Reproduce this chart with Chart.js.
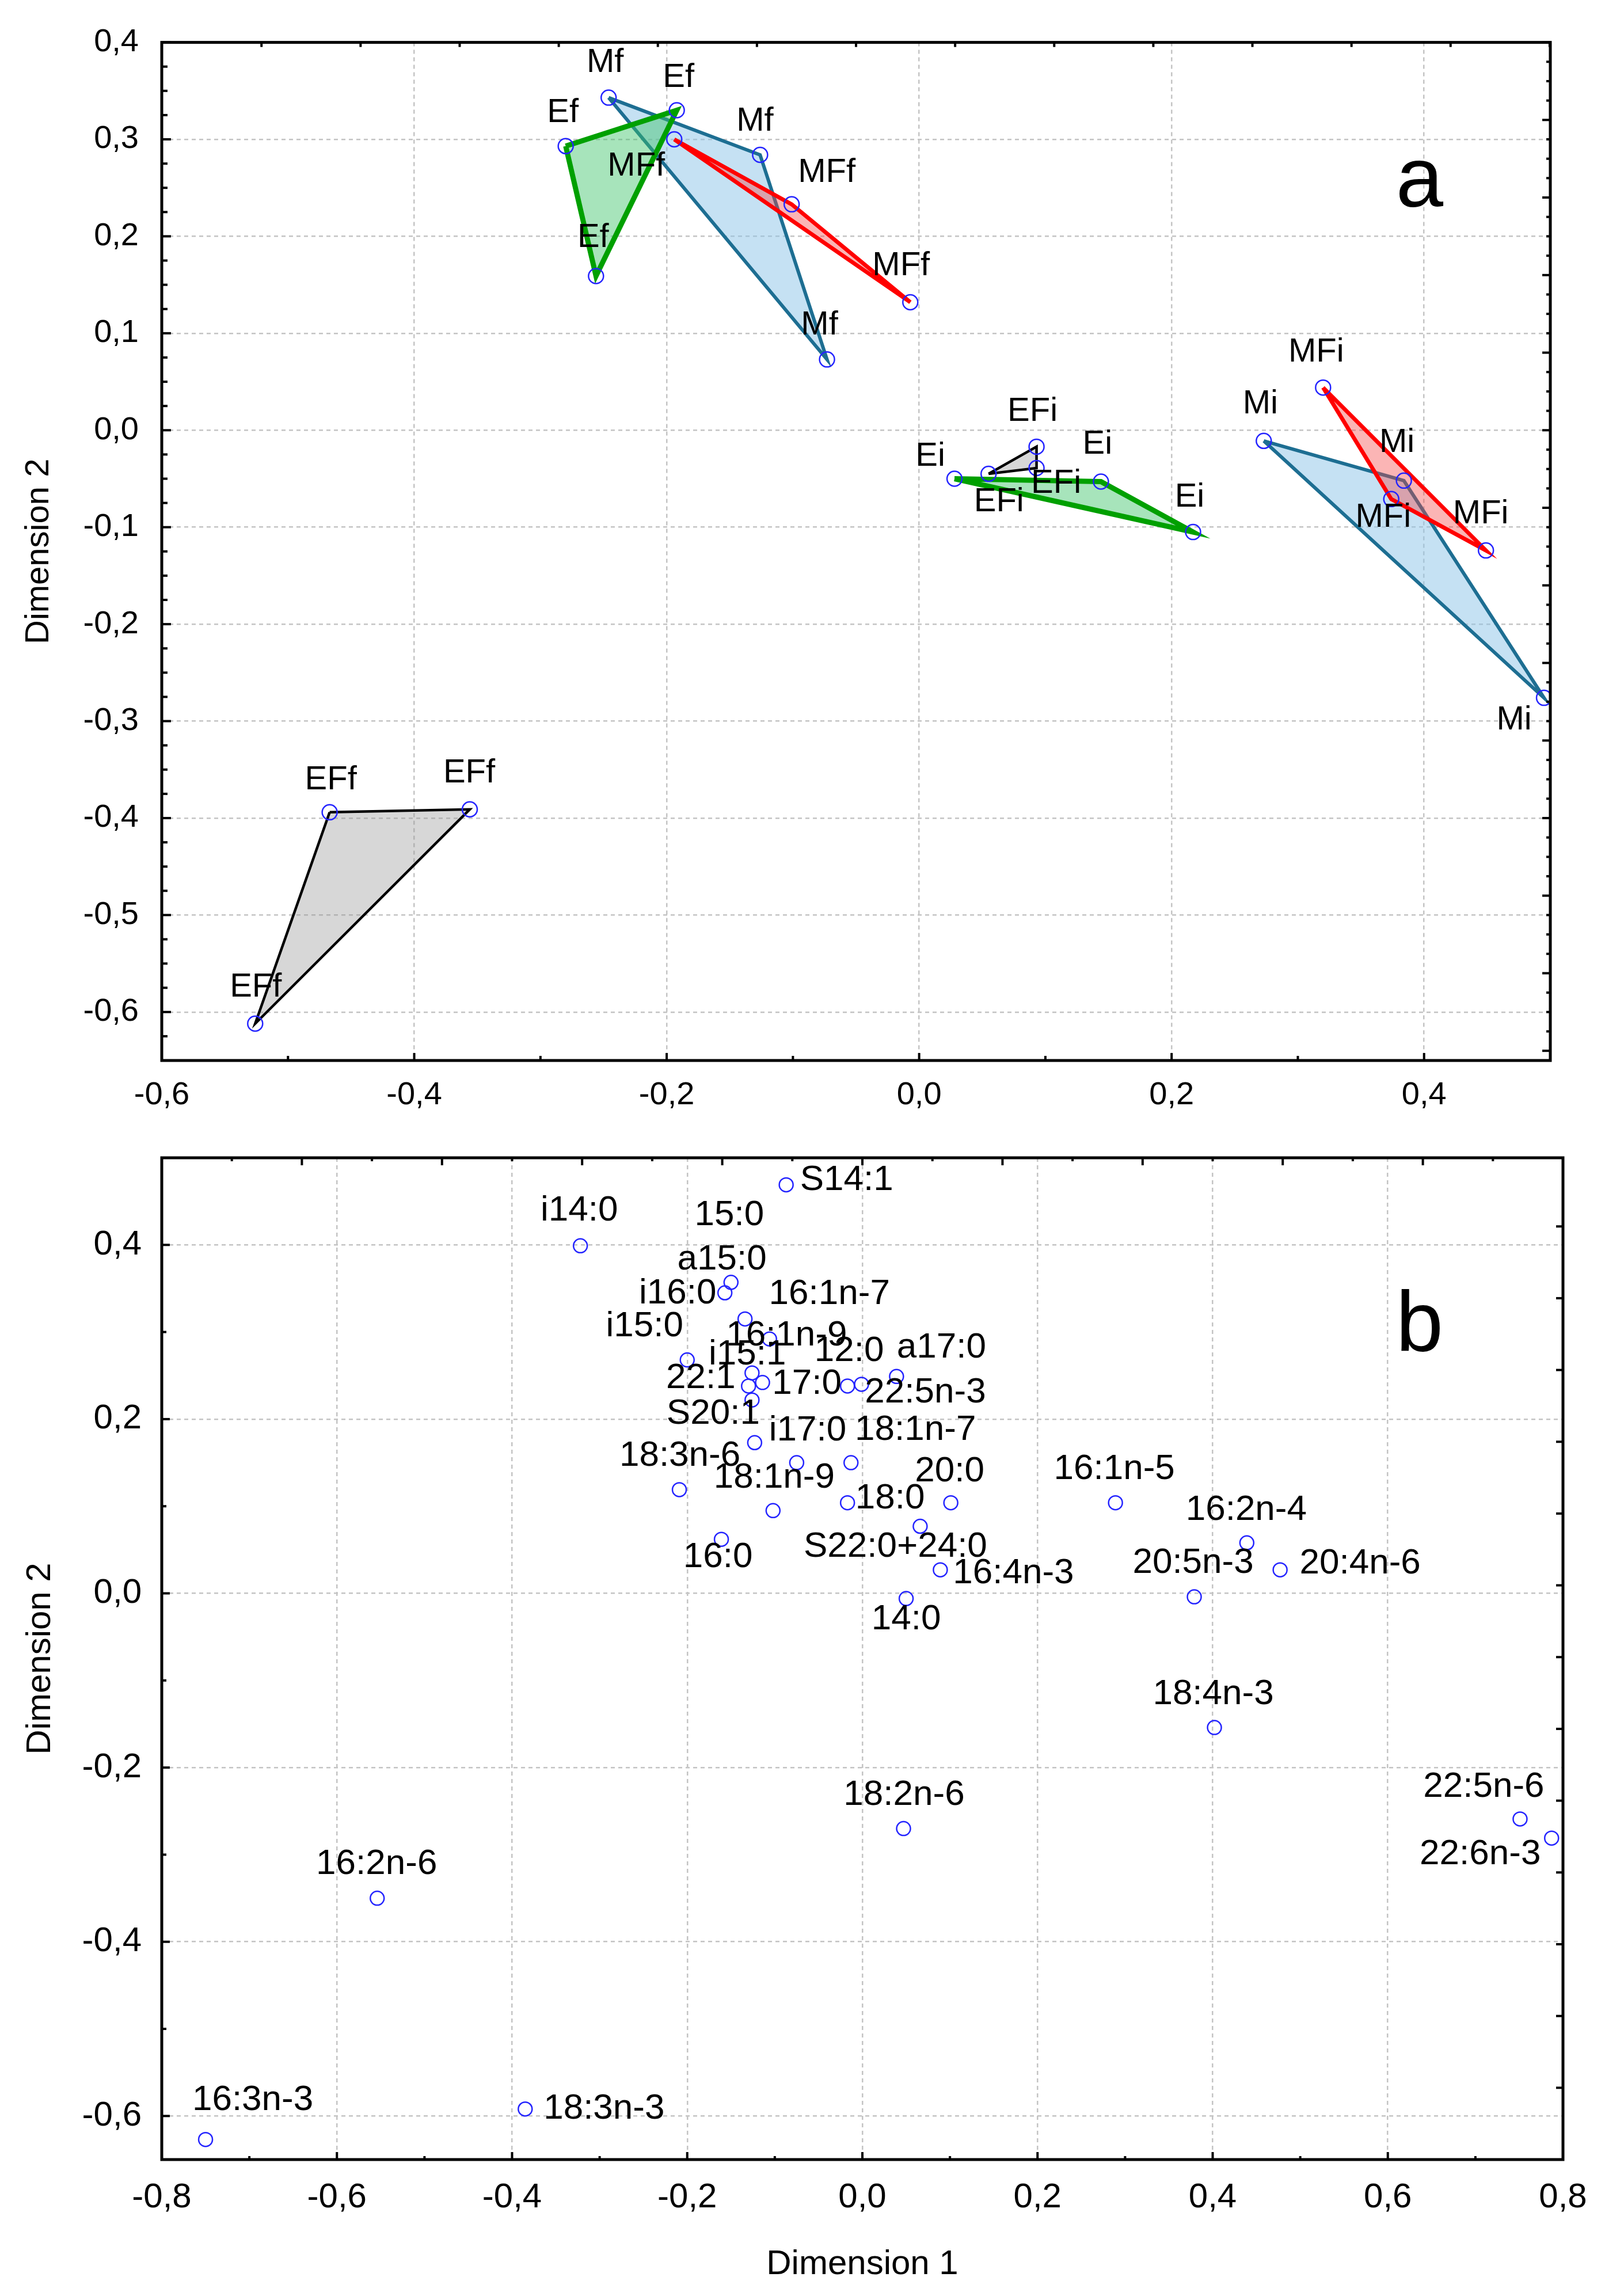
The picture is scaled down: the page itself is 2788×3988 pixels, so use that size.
<!DOCTYPE html>
<html>
<head>
<meta charset="utf-8">
<script src="https://cdn.jsdelivr.net/npm/chart.js@4.4.1/dist/chart.umd.min.js"></script>
<style>
  html, body { margin: 0; padding: 0; background: #fff; }
  .wrap { position: absolute; left: 0; width: 2788px; }
  #wrapA { top: 0; height: 1940px; }
  #wrapB { top: 1940px; height: 2048px; }
</style>
</head>
<body>
<div class="wrap" id="wrapA"><canvas id="chartA" width="2788" height="1940" style="width:2788px;height:1940px"></canvas></div>
<div class="wrap" id="wrapB"><canvas id="chartB" width="2788" height="2048" style="width:2788px;height:2048px"></canvas></div>
<script>
// ---- panel a: sample groups (three replicates each) ----
const groupNames = ["Mf", "Ef", "MFf", "EFf", "Mi", "Ei", "MFi", "EFi"];
const groupDim1 = [
    [-0.246, -0.126, -0.073],
    [-0.280, -0.192, -0.256],
    [-0.194, -0.101, -0.007],
    [-0.467, -0.356, -0.526],
    [0.273, 0.384, 0.495],
    [0.028, 0.144, 0.217],
    [0.320, 0.374, 0.449],
    [0.055, 0.093, 0.093]
];
const groupDim2 = [
    [0.343, 0.284, 0.073],
    [0.293, 0.330, 0.159],
    [0.300, 0.233, 0.132],
    [-0.394, -0.391, -0.612],
    [-0.011, -0.052, -0.276],
    [-0.050, -0.053, -0.105],
    [0.044, -0.071, -0.124],
    [-0.045, -0.017, -0.039]
];

// ---- panel b: fatty acids ----
const acidNames = [
    "S14:1", "i14:0", "15:0", "a15:0", "i16:0", "16:1n-7", "i15:0", "16:1n-9", "17:0",
    "i15:1", "22:1", "S20:1", "i17:0", "18:3n-6", "18:1n-9", "18:1n-7", "18:0", "12:0",
    "22:5n-3", "a17:0", "20:0", "16:0", "S22:0+24:0", "16:4n-3", "14:0", "16:1n-5",
    "16:2n-4", "20:4n-6", "20:5n-3", "18:4n-3", "18:2n-6", "22:5n-6", "22:6n-3",
    "16:2n-6", "16:3n-3", "18:3n-3"
];
const acidDim1 = [
    -0.087, -0.322, -0.150, -0.157, -0.134, -0.106, -0.200, -0.126, -0.114,
    -0.130, -0.126, -0.123, -0.075, -0.209, -0.102, -0.013, -0.017, -0.017,
    -0.001, 0.039, 0.101, -0.161, 0.066, 0.089, 0.050, 0.289,
    0.439, 0.477, 0.379, 0.402, 0.047, 0.751, 0.787,
    -0.554, -0.750, -0.385
];
const acidDim2 = [
    0.469, 0.399, 0.357, 0.345, 0.315, 0.292, 0.268, 0.253, 0.242,
    0.238, 0.222, 0.173, 0.150, 0.119, 0.095, 0.150, 0.104, 0.238,
    0.240, 0.249, 0.104, 0.062, 0.077, 0.027, -0.006, 0.104,
    0.058, 0.027, -0.004, -0.154, -0.270, -0.259, -0.281,
    -0.350, -0.627, -0.592
];

// axis tick labels
const ticksAx = [-0.6, -0.4, -0.2, 0, 0.2, 0.4];
const ticksAy = [-0.6, -0.5, -0.4, -0.3, -0.2, -0.1, 0, 0.1, 0.2, 0.3, 0.4];
const ticksBx = [-0.8, -0.6, -0.4, -0.2, 0, 0.2, 0.4, 0.6, 0.8];
const ticksBy = [-0.6, -0.4, -0.2, 0, 0.2, 0.4];

// polygon styles, per group
const groupStroke = ["#1d6e92", "#00a000", "#ff0000", "#000000", "#1d6e92", "#00a000", "#ff0000", "#000000"];
const groupFill = [
    "rgba(140,195,232,0.5)", "rgba(60,195,105,0.45)", "rgba(245,70,70,0.4)", "rgba(150,150,150,0.38)",
    "rgba(140,195,232,0.5)", "rgba(60,195,105,0.45)", "rgba(245,70,70,0.4)", "rgba(150,150,150,0.38)"
];
const groupLineWidth = [6, 9, 7, 4.5, 6, 9, 7, 4.5];
const groupOrder = [4, 3, 2, 1, 4, 3, 2, 1];

// label placement (pixels from the marker)
const groupLabelShift = [
    [[-6, -61], [-9, -58], [-13, -59]],
    [[-5, -58], [3, -56], [-5, -66]],
    [[-66, 47], [61, -55], [-16, -63]],
    [[2, -56], [-1, -63], [1, -63]],
    [[-6, -64], [-12, -66], [-52, 39]],
    [[-42, -38], [-6, -65], [-6, -60]],
    [[-12, -61], [-14, 32], [-9, -63]],
    [[18, 49], [-7, -61], [34, 27]]
];
const acidLabelShift = [
    [105, -8], [-2, -61], [-3, -116], [-5, -58], [-117, -44], [104, -78], [-74, -58], [60, -65], [77, 3],
    [-2, -55], [-89, -38], [-72, -50], [19, -56], [1, -59], [2, -57], [112, -57], [74, -7], [3, -61],
    [111, 15], [78, -50], [-2, -54], [-6, 31], [-43, 36], [127, 6], [0, 36], [-2, -58],
    [-1, -57], [139, -11], [-2, -59], [-2, -58], [1, -58], [-63, -55], [-124, 28],
    [-1, -59], [82, -68], [137, 0]
];

const FONT = "'Liberation Sans', Arial, Helvetica, sans-serif";
Chart.defaults.font.family = FONT;
Chart.defaults.color = "#000";

const fmt = v => Number(v).toFixed(1).replace(".", ",");

// frame round the plot area, with inward tick marks on all four sides
const frameTicks = {
    id: "frameTicks",
    afterDatasetsDraw(chart, args, opts) {
        const { ctx, chartArea: a, scales } = chart;
        ctx.save();
        ctx.strokeStyle = "#000";
        ctx.lineWidth = 4;
        opts.sides.forEach(s => {
            const horiz = s.side === "top" || s.side === "bottom";
            const scale = horiz ? scales.x : scales.y;
            for (let i = 0; i < 400; i++) {
                const v = s.start + i * s.step;
                if (v > scale.max + 1e-9) break;
                if (v < scale.min - 1e-9) continue;
                const len = i % s.majorEvery === 0 ? s.majorLen : s.minorLen;
                const p = scale.getPixelForValue(v);
                ctx.beginPath();
                if (s.side === "bottom") { ctx.moveTo(p, a.bottom); ctx.lineTo(p, a.bottom - len); }
                if (s.side === "top") { ctx.moveTo(p, a.top); ctx.lineTo(p, a.top + len); }
                if (s.side === "left") { ctx.moveTo(a.left, p); ctx.lineTo(a.left + len, p); }
                if (s.side === "right") { ctx.moveTo(a.right, p); ctx.lineTo(a.right - len, p); }
                ctx.stroke();
            }
        });
        ctx.lineWidth = 5;
        ctx.strokeRect(a.left, a.top, a.right - a.left, a.bottom - a.top);
        ctx.restore();
    }
};

// text next to every marker of one dataset
const pointLabels = {
    id: "pointLabels",
    afterDatasetsDraw(chart, args, opts) {
        const meta = chart.getDatasetMeta(opts.datasetIndex);
        const ctx = chart.ctx;
        ctx.save();
        ctx.font = opts.font;
        ctx.fillStyle = "#000";
        ctx.textAlign = "center";
        ctx.textBaseline = "middle";
        meta.data.forEach((el, i) => {
            const s = opts.shifts[i];
            ctx.fillText(opts.names[i], el.x + s[0], el.y + s[1]);
        });
        ctx.restore();
    }
};

// big panel letter
const panelLetter = {
    id: "panelLetter",
    afterDraw(chart, args, opts) {
        const { ctx, chartArea: a } = chart;
        ctx.save();
        ctx.font = "148px " + FONT;
        ctx.fillStyle = "#000";
        ctx.textAlign = "center";
        ctx.textBaseline = "alphabetic";
        ctx.fillText(opts.text, a.right - opts.fromRight, a.top + opts.baseline);
        ctx.restore();
    }
};

function scaleOptions(min, max, tickValues, fontSize, pad, fitSize, isX, title) {
    const o = {
        type: "linear",
        position: isX ? "bottom" : "left",
        min: min,
        max: max,
        afterBuildTicks: scale => { scale.ticks = tickValues.map(v => ({ value: v })); },
        afterFit: scale => { if (isX) scale.height = fitSize; else scale.width = fitSize; },
        ticks: {
            font: { size: fontSize },
            color: "#000",
            padding: pad,
            autoSkip: false,
            maxRotation: 0,
            callback: v => fmt(v)
        },
        grid: { color: "#c4c4c4", lineWidth: 2.5, drawTicks: false },
        border: { display: false, dash: [7, 6] }
    };
    if (title) o.title = title;
    return o;
}

// ---------- chart a ----------
const datasetsA = [];
const namesA = [];
const shiftsA = [];
const ptsA = [];
groupNames.forEach((name, g) => {
    const poly = groupDim1[g].map((v, i) => ({ x: v, y: groupDim2[g][i] }));
    poly.forEach((p, i) => { ptsA.push(p); namesA.push(name); shiftsA.push(groupLabelShift[g][i]); });
    datasetsA.push({
        data: poly.concat([poly[0]]),
        showLine: true,
        fill: "shape",
        tension: 0,
        borderColor: groupStroke[g],
        backgroundColor: groupFill[g],
        borderWidth: groupLineWidth[g],
        borderJoinStyle: "miter",
        pointRadius: 0,
        order: groupOrder[g]
    });
});
datasetsA.push({
    data: ptsA,
    showLine: false,
    pointRadius: 13,
    pointBorderWidth: 2.5,
    pointBorderColor: "#2424ff",
    pointBackgroundColor: "rgba(0,0,0,0)",
    order: 0
});

new Chart(document.getElementById("chartA"), {
    type: "scatter",
    data: { datasets: datasetsA },
    plugins: [frameTicks, pointLabels, panelLetter],
    options: {
        responsive: false,
        animation: false,
        devicePixelRatio: 1,
        events: [],
        layout: { padding: { top: 73, right: 95, left: 0, bottom: 0 } },
        scales: {
            x: scaleOptions(-0.6, 0.5, ticksAx, 56, 27, 98, true, null),
            y: scaleOptions(-0.65, 0.4, ticksAy, 56, 40, 281, false,
                { display: true, text: "Dimension 2", font: { size: 58 }, color: "#000", padding: { top: 33, bottom: 0 } })
        },
        plugins: {
            legend: { display: false },
            tooltip: { enabled: false },
            frameTicks: {
                sides: [
                    { side: "bottom", start: -0.6, step: 0.1, majorEvery: 2, majorLen: 13, minorLen: 8 },
                    { side: "left", start: -0.7, step: 0.025, majorEvery: 4, majorLen: 16, minorLen: 10 },
                    { side: "top", start: -0.521, step: 0.0785, majorEvery: 1, majorLen: 8, minorLen: 8 },
                    { side: "right", start: -0.72, step: 0.02, majorEvery: 4, majorLen: 14, minorLen: 7 }
                ]
            },
            pointLabels: { datasetIndex: datasetsA.length - 1, names: namesA, shifts: shiftsA, font: "58px " + FONT },
            panelLetter: { text: "a", fromRight: 227, baseline: 285 }
        }
    }
});

// ---------- chart b ----------
const ptsB = acidDim1.map((v, i) => ({ x: v, y: acidDim2[i] }));

new Chart(document.getElementById("chartB"), {
    type: "scatter",
    data: {
        datasets: [{
            data: ptsB,
            pointRadius: 12,
            pointBorderWidth: 2.5,
            pointBorderColor: "#2424ff",
            pointBackgroundColor: "rgba(0,0,0,0)"
        }]
    },
    plugins: [frameTicks, pointLabels, panelLetter],
    options: {
        responsive: false,
        animation: false,
        devicePixelRatio: 1,
        events: [],
        layout: { padding: { top: 41, right: 73, left: 0, bottom: 0 } },
        scales: {
            x: scaleOptions(-0.8, 0.8, ticksBx, 60, 30, 237, true,
                { display: true, text: "Dimension 1", font: { size: 60 }, color: "#000", padding: { top: 0, bottom: 19 } }),
            y: scaleOptions(-0.65, 0.5, ticksBy, 60, 35, 281, false,
                { display: true, text: "Dimension 2", font: { size: 60 }, color: "#000", padding: { top: 34, bottom: 0 } })
        },
        plugins: {
            legend: { display: false },
            tooltip: { enabled: false },
            frameTicks: {
                sides: [
                    { side: "bottom", start: -0.8, step: 0.1, majorEvery: 2, majorLen: 13, minorLen: 6 },
                    { side: "left", start: -0.8, step: 0.1, majorEvery: 2, majorLen: 14, minorLen: 8 },
                    { side: "top", start: -0.8, step: 0.08, majorEvery: 2, majorLen: 13, minorLen: 6 },
                    { side: "right", start: -0.65, step: 0.0824, majorEvery: 1, majorLen: 12, minorLen: 12 }
                ]
            },
            pointLabels: { datasetIndex: 0, names: acidNames, shifts: acidLabelShift, font: "62px " + FONT },
            panelLetter: { text: "b", fromRight: 249, baseline: 336 }
        }
    }
});
</script>
</body>
</html>
